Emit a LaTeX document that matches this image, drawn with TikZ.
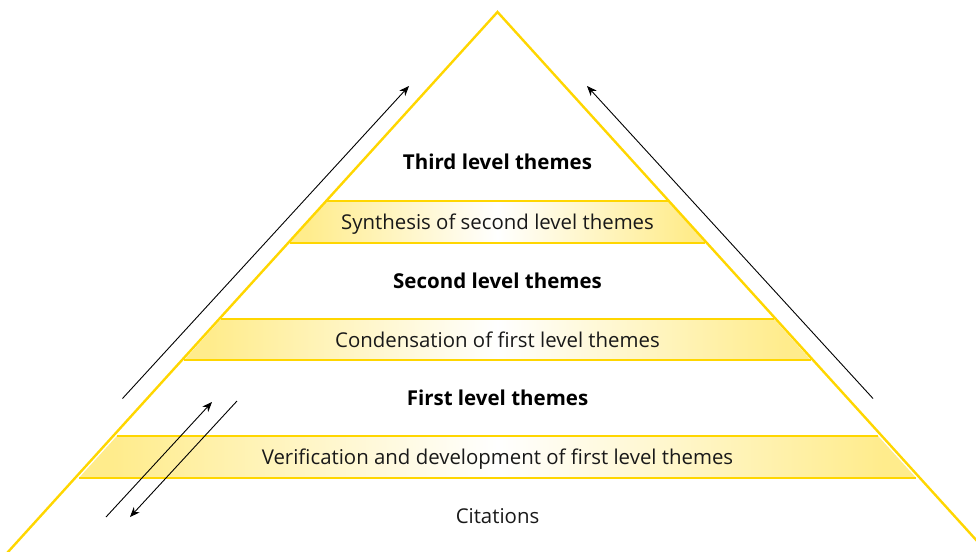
\documentclass[tikz,border=0pt]{standalone}
\usepackage{fontspec}
\setmainfont{Open Sans}
\usetikzlibrary{arrows.meta}
\definecolor{pyr}{RGB}{255,214,0}
\definecolor{bandy}{RGB}{255,236,140}
\pgfdeclarehorizontalshading{bandshade}{100bp}{color(0bp)=(bandy); color(27bp)=(bandy); color(50bp)=(white); color(73bp)=(bandy); color(100bp)=(bandy)}
\tikzset{
  pyrline/.style={draw=pyr, line width=2.4pt, line join=miter},
  bandfill/.style={shading=bandshade},
  bandline/.style={draw=pyr, line width=2.4pt},
  flowarrow/.style={draw=black, line width=0.9pt, -{Stealth[length=10pt,width=8pt]}},
  bandtext/.style={font=\fontsize{20.4}{22}\selectfont, text=black!90, inner sep=0pt, anchor=base},
  leveltext/.style={font=\fontsize{20.5}{22}\selectfont\bfseries, text=black, inner sep=0pt, anchor=base}
}
\begin{document}
\begin{tikzpicture}[x=1pt,y=-1pt]
\useasboundingbox (0,0) rectangle (976,551);
\clip (0,0) rectangle (976,551);
% bands
\path[bandfill] (116.9,436) -- (878.1,436) -- (916.2,478) -- (78.8,478) -- cycle;
\path[bandfill] (221.2,319) -- (773.8,319) -- (810.7,360) -- (184.3,360) -- cycle;
\path[bandfill] (327.4,201) -- (667.6,201) -- (705.4,243) -- (289.6,243) -- cycle;
\draw[bandline] (116.9,436) -- (878.1,436) (78.8,478) -- (916.2,478);
\draw[bandline] (221.2,319) -- (773.8,319) (184.3,360) -- (810.7,360);
\draw[bandline] (327.4,201) -- (667.6,201) (289.6,243) -- (705.4,243);
% pyramid
\coordinate (apex) at (497.5,12);
\coordinate (bl) at (-2,563);
\coordinate (br) at (997,563);
\draw[pyrline] (bl) -- (apex) -- (br);
% texts
\node[leveltext] (t3) at (497.5,169.5) {Third level themes};
\node[bandtext] (b3) at (497.5,229.5) {Synthesis of second level themes};
\node[leveltext] (t2) at (497.5,288.5) {Second level themes};
\node[bandtext] (b2) at (497.5,347.5) {Condensation of first level themes};
\node[leveltext] (t1) at (497.5,405.5) {First level themes};
\node[bandtext] (b1) at (497.5,464.5) {Verification and development of first level themes};
\node[bandtext] (cit) at (497.5,523.5) {Citations};
% arrows
\coordinate (la0) at (122.5,398.5);
\coordinate (la1) at (409,86);
\coordinate (ra0) at (873,398.5);
\coordinate (ra1) at (587,86);
\coordinate (sa0) at (106,517);
\coordinate (sa1) at (212,402);
\coordinate (sb0) at (237,401);
\coordinate (sb1) at (130,517);
\draw[flowarrow] (la0) -- (la1);
\draw[flowarrow] (ra0) -- (ra1);
\draw[flowarrow] (sa0) -- (sa1);
\draw[flowarrow] (sb0) -- (sb1);
\end{tikzpicture}
\end{document}
